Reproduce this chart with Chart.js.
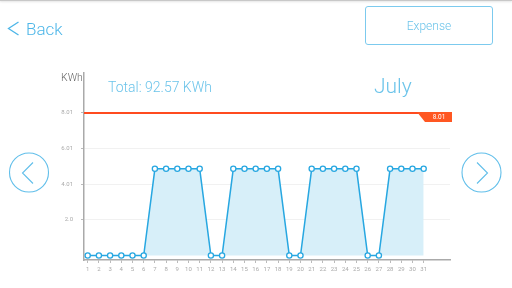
<!DOCTYPE html>
<html>
<head>
<meta charset="utf-8">
<script src="https://cdn.jsdelivr.net/npm/chart.js@4/dist/chart.umd.min.js"></script>
<style>
  html, body { margin: 0; padding: 0; background: #fff; }
  body { width: 512px; height: 288px; position: relative; overflow: hidden; font-family: Roboto, "Open Sans", sans-serif; }
  #wrap { position: absolute; left: 0; top: 0; width: 512px; height: 288px; }
  .topline { position: absolute; left: 0; top: 0; width: 512px; height: 1px; background: #c8c8c8; box-shadow: 0 1px 2px rgba(0,0,0,0.15); }
  .txt { position: absolute; white-space: nowrap; line-height: 1; }
  #back { left: 26px; top: 21px; font-size: 17px; font-weight: 300; color: #4db6e8; }
  #expense { position: absolute; left: 365px; top: 6px; width: 126px; height: 37px; border: 1px solid #7ccaee; border-radius: 3px; box-sizing: content-box; color: #6cc4ea; font-size: 12px; font-weight: 300; text-align: center; line-height: 38px; }
  #kwh { left: 61px; top: 73px; font-size: 10.5px; color: #666; font-weight: 300; }
  #total { left: 108px; top: 80px; font-size: 14px; color: #6cc4ea; font-weight: 300; }
  #month { left: 374px; top: 76px; font-size: 21px; color: #6cc4ea; font-weight: 300; }
  svg { position: absolute; left: 0; top: 0; }
</style>
</head>
<body>
<div id="wrap"><canvas id="c" width="512" height="288"></canvas></div>
<div class="topline"></div>
<svg width="512" height="288">
  <polyline points="18.5,22 8.5,28.5 18.5,35" fill="none" stroke="#4db6e8" stroke-width="1.3"/>
  <circle cx="29" cy="172.5" r="19.5" fill="none" stroke="#62bfea" stroke-width="1.1"/>
  <polyline points="33,162.5 22.5,173 33,183.5" fill="none" stroke="#62bfea" stroke-width="1.1"/>
  <circle cx="481.5" cy="172.5" r="19.5" fill="none" stroke="#62bfea" stroke-width="1.1"/>
  <polyline points="477,162.5 487.5,173 477,183.5" fill="none" stroke="#62bfea" stroke-width="1.1"/>
</svg>
<div class="txt" id="back">Back</div>
<div id="expense">Expense</div>
<div class="txt" id="kwh">KWh</div>
<div class="txt" id="total">Total: 92.57 KWh</div>
<div class="txt" id="month">July</div>
<script>
// ---- data ----
const days = [1,2,3,4,5,6,7,8,9,10,11,12,13,14,15,16,17,18,19,20,21,22,23,24,25,26,27,28,29,30,31];
const usage = [0,0,0,0,0,0,4.87,4.87,4.87,4.87,4.87,0,0,4.87,4.87,4.87,4.87,4.87,0,0,4.87,4.87,4.87,4.87,4.87,0,0,4.87,4.87,4.87,4.87];
const yTickValues = [2.0, 4.01, 6.01, 8.01];
const yTickLabels = ["2.0", "4.01", "6.01", "8.01"];
const limitValue = 8.01;
const limitLabel = "8.01";

const points = days.map((d, i) => ({ x: d, y: usage[i] }));

const limitPlugin = {
  id: 'limitLine',
  afterDatasetsDraw(chart) {
    const { ctx, chartArea, scales } = chart;
    const y = scales.y.getPixelForValue(limitValue);
    ctx.save();
    ctx.strokeStyle = '#ff4b1f';
    ctx.lineWidth = 2;
    ctx.beginPath();
    ctx.moveTo(chartArea.left, y);
    ctx.lineTo(chartArea.right + 2, y);
    ctx.stroke();
    // tag
    const r = chartArea.right + 2;
    ctx.fillStyle = '#ff5722';
    ctx.beginPath();
    ctx.moveTo(r - 35, y - 1);
    ctx.lineTo(r, y - 1);
    ctx.lineTo(r, y + 9);
    ctx.lineTo(r - 27, y + 9);
    ctx.closePath();
    ctx.fill();
    ctx.fillStyle = '#ffffff';
    ctx.font = '6.5px Roboto, sans-serif';
    ctx.textAlign = 'center';
    ctx.textBaseline = 'middle';
    ctx.fillText(limitLabel, r - 13, y + 4.5);
    ctx.restore();
  }
};

new Chart(document.getElementById('c'), {
  type: 'line',
  data: {
    datasets: [{
      data: points,
      borderColor: '#27a7e1',
      borderWidth: 1.5,
      backgroundColor: '#d7eff9',
      fill: 'origin',
      tension: 0,
      pointRadius: 2.6,
      pointBorderWidth: 1.3,
      pointBackgroundColor: '#ffffff',
      pointBorderColor: '#27a7e1'
    }]
  },
  options: {
    responsive: false,
    animation: false,
    devicePixelRatio: 1,
    layout: { padding: { left: 0, right: 62, top: 73, bottom: 0 } },
    plugins: { legend: { display: false }, tooltip: { enabled: false } },
    scales: {
      x: {
        type: 'linear',
        min: 0.67,
        max: 33.35,
        afterBuildTicks(scale) { scale.ticks = days.map(v => ({ value: v })); },
        afterFit(scale) { scale.height = 28; },
        ticks: {
          autoSkip: false,
          maxRotation: 0,
          color: '#aaa',
          font: { size: 6, family: 'Roboto' },
          padding: 3,
          callback: (v) => String(v)
        },
        grid: { drawOnChartArea: false, tickLength: 3, tickColor: '#bbb', color: '#bbb' },
        border: { color: '#aaa', width: 1.5 }
      },
      y: {
        min: -0.25,
        max: 10.25,
        afterBuildTicks(scale) { scale.ticks = yTickValues.map(v => ({ value: v })); },
        afterFit(scale) { scale.width = 84; },
        ticks: {
          color: '#aaa',
          font: { size: 6, family: 'Roboto' },
          padding: 8,
          callback: (v) => yTickLabels[yTickValues.indexOf(v)]
        },
        grid: { color: '#f1f1f1', tickLength: 3, tickColor: '#bbb' },
        border: { color: '#aaa', width: 1.5 }
      }
    }
  },
  plugins: [limitPlugin]
});
</script>
</body>
</html>
